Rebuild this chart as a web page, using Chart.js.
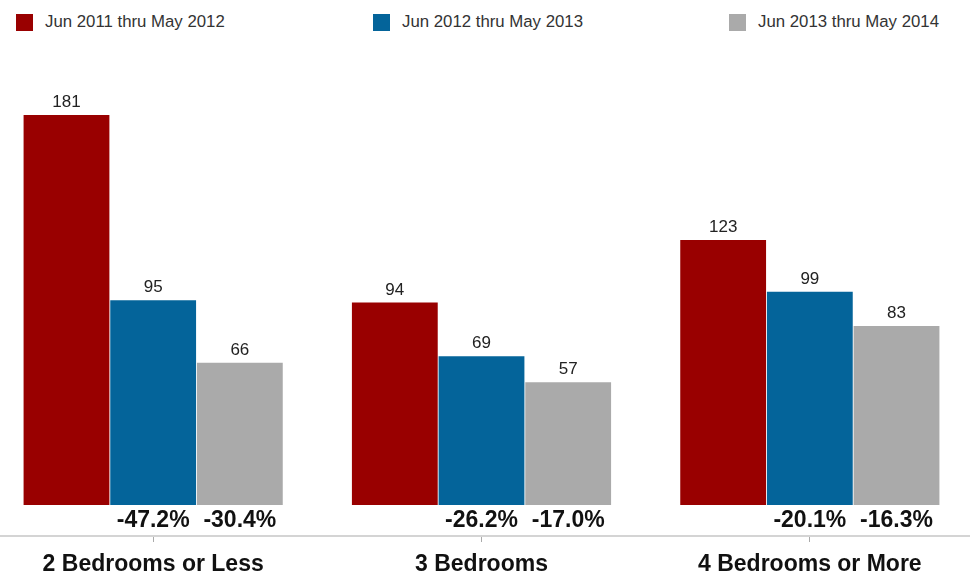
<!DOCTYPE html>
<html lang="en">
<head>
    <meta charset="UTF-8">
    <title>Sales by Bedroom Count</title>
    <script src="https://cdn.jsdelivr.net/npm/chart.js"></script>
    <style>
        body {
            margin: 0;
            width: 970px;
            height: 584px;
            overflow: hidden;
            background: #fff;
            font-family: "Liberation Sans", Arial, sans-serif;
            position: relative;
        }

        #chartCanvas {
            position: absolute;
            left: -11px;
            top: 0;
        }

        .legendItem {
            position: absolute;
            top: 13px;
            height: 18px;
            display: flex;
            align-items: center;
            font-size: 16.8px;
            color: #333;
        }

        .legendItem span.box {
            display: inline-block;
            width: 17px;
            height: 17px;
            margin-right: 12px;
        }
    </style>
</head>
<body>
    <div id="legend"></div>
    <canvas id="chartCanvas" width="985" height="584"></canvas>

    <script>
        // Chart data
        var categories = ['2 Bedrooms or Less', '3 Bedrooms', '4 Bedrooms or More'];
        var periodLabels = ['Jun 2011 thru May 2012', 'Jun 2012 thru May 2013', 'Jun 2013 thru May 2014'];
        var sales2012 = [181, 94, 123];
        var sales2013 = [95, 69, 99];
        var sales2014 = [66, 57, 83];
        // percent change shown under the later bars
        var change2013 = ['-47.2%', '-26.2%', '-20.1%'];
        var change2014 = ['-30.4%', '-17.0%', '-16.3%'];

        var colors = ['#990000', '#04649a', '#aaaaaa'];
        var legendLefts = [16, 373, 729];

        // HTML legend
        var legend = document.getElementById('legend');
        periodLabels.forEach(function (label, i) {
            var item = document.createElement('div');
            item.className = 'legendItem';
            item.style.left = legendLefts[i] + 'px';
            item.innerHTML = '<span class="box" style="background:' + colors[i] + '"></span>' + label;
            legend.appendChild(item);
        });

        // Draws the value above each bar and the percent change below the later bars
        var barLabels = {
            id: 'barLabels',
            afterDatasetsDraw: function (chart) {
                var ctx = chart.ctx;
                var changes = [null, change2013, change2014];
                ctx.save();
                ctx.textAlign = 'center';
                chart.data.datasets.forEach(function (ds, di) {
                    var meta = chart.getDatasetMeta(di);
                    meta.data.forEach(function (bar, i) {
                        ctx.fillStyle = '#222';
                        ctx.font = '17px "Liberation Sans", Arial, sans-serif';
                        ctx.textBaseline = 'bottom';
                        ctx.fillText(ds.data[i], bar.x, bar.y - 4);
                        if (changes[di]) {
                            ctx.fillStyle = '#111';
                            ctx.font = 'bold 23px "Liberation Sans", Arial, sans-serif';
                            ctx.textBaseline = 'middle';
                            ctx.fillText(changes[di][i], bar.x, bar.base + 16);
                        }
                    });
                });
                ctx.restore();
            }
        };

        var ctx = document.getElementById('chartCanvas').getContext('2d');
        var myChart = new Chart(ctx, {
            type: 'bar',
            data: {
                labels: categories,
                datasets: [
                    { label: periodLabels[0], data: sales2012, backgroundColor: colors[0] },
                    { label: periodLabels[1], data: sales2013, backgroundColor: colors[1] },
                    { label: periodLabels[2], data: sales2014, backgroundColor: colors[2] }
                ]
            },
            options: {
                responsive: false,
                animation: false,
                layout: { padding: { top: 60, left: 0, right: 0, bottom: 0 } },
                categoryPercentage: 0.792,
                barPercentage: 0.99,
                plugins: {
                    legend: { display: false },
                    tooltip: { enabled: false }
                },
                scales: {
                    y: {
                        display: false,
                        min: -14.4,
                        max: 206.5
                    },
                    x: {
                        afterFit: function (scale) { scale.height = 48; },
                        grid: {
                            offset: false,
                            drawOnChartArea: false,
                            drawTicks: true,
                            tickLength: 6,
                            color: '#aaa'
                        },
                        border: { color: '#d4d4d4', width: 2 },
                        ticks: {
                            padding: 9,
                            color: '#111',
                            font: { family: '"Liberation Sans", Arial, sans-serif', size: 23, weight: 'bold' }
                        }
                    }
                }
            },
            plugins: [barLabels]
        });
    </script>
</body>
</html>
